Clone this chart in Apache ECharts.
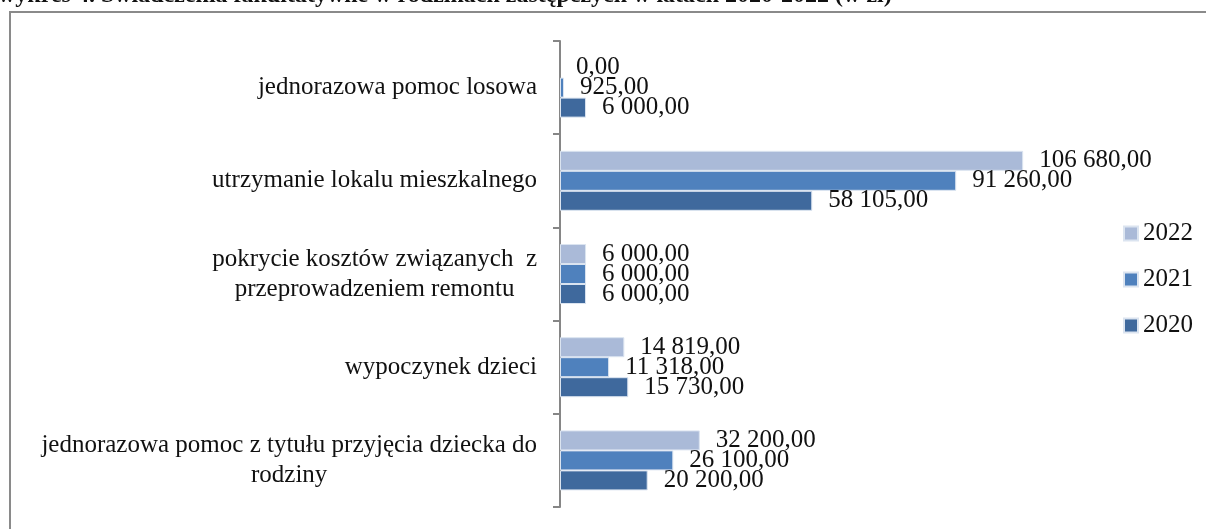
<!DOCTYPE html>
<html>
<head>
<meta charset="utf-8">
<script src="https://cdn.jsdelivr.net/npm/echarts@6/dist/echarts.min.js"></script>
<style>
  html, body { margin: 0; padding: 0; background: #fff; }
  #chart { width: 1206px; height: 529px; }
</style>
</head>
<body>
<div id="chart"></div>
<script>
// kategorie od dołu do góry (oś kategorii w ECharts rysuje pierwszą na dole)
var categories = [
    'jednorazowa pomoc z tytułu przyjęcia dziecka do\nrodziny',
    'wypoczynek dzieci',
    'pokrycie kosztów związanych  z\nprzeprowadzeniem remontu',
    'utrzymanie lokalu mieszkalnego',
    'jednorazowa pomoc losowa'
];
var years = ['2022', '2021', '2020'];
var values2022 = [32200, 14819, 6000, 106680, 0];
var values2021 = [26100, 11318, 6000, 91260, 925];
var values2020 = [20200, 15730, 6000, 58105, 6000];
var colors = ['#aabad8', '#4f81bd', '#3f699d'];

var FONT = '"Liberation Serif", "Times New Roman", serif';
var FS = 25;

// 106680 -> "106 680,00"
var fmt = function(v){
    var s = String(Math.round(v));
    s = s.replace(/\B(?=(\d{3})+(?!\d))/g, ' ');
    return s + ',00';
};

var makeSeries = function(name, data, color){
    return {
        name: name,
        type: 'bar',
        // słupek o wartości 0 bez obramowania, żeby nie było widać kreski
        data: data.map(function(v){
            return v === 0 ? {value: v, itemStyle: {borderWidth: 0}} : v;
        }),
        barWidth: 20,
        barGap: '0%',
        itemStyle: {
            color: color,
            borderColor: '#dbe4f0',
            borderWidth: 1
        },
        label: {
            show: true,
            position: 'right',
            distance: 16,
            fontFamily: FONT,
            fontSize: FS,
            color: '#111',
            formatter: function(p){ return fmt(p.value); }
        }
    };
};

var myChart = echarts.init(document.getElementById('chart'));
var option = {
    animation: false,
    backgroundColor: '#fff',
    graphic: [
        {
            type: 'text',
            left: -2,
            top: -16,
            style: {
                text: 'wykres 4. Świadczenia fakultatywne w rodzinach zastępczych w latach 2020-2022 (w zł)',
                font: 'bold 24px ' + FONT,
                fill: '#111'
            }
        },
        {
            type: 'rect',
            shape: { x: 10, y: 12, width: 1210, height: 540 },
            style: { fill: null, stroke: '#8a8a8a', lineWidth: 2 },
            silent: true
        }
    ],
    legend: {
        data: years,
        orient: 'vertical',
        left: 1118,
        top: 216,
        itemWidth: 14,
        itemHeight: 14,
        itemGap: 21,
        icon: 'rect',
        textStyle: { fontFamily: FONT, fontSize: FS, color: '#111' }
    },
    grid: {
        left: 560,
        top: 41,
        width: 521,
        bottom: 22,
        containLabel: false
    },
    xAxis: {
        type: 'value',
        min: 0,
        max: 120000,
        show: false,
        splitLine: { show: false }
    },
    yAxis: {
        type: 'category',
        data: categories,
        axisLine: { show: true, lineStyle: { color: '#868686', width: 2 } },
        axisTick: { show: true, length: 7, lineStyle: { color: '#868686', width: 2 } },
        axisLabel: {
            margin: 23,
            formatter: function(v){
                return v.split('\n').map(function(l){ return '{c|' + l + '}'; }).join('\n');
            },
            rich: {
                c: {
                    align: 'center',
                    fontFamily: FONT,
                    fontSize: FS,
                    lineHeight: 30,
                    color: '#111'
                }
            }
        }
    },
    series: [
        makeSeries(years[0], values2022, colors[0]),
        makeSeries(years[1], values2021, colors[1]),
        makeSeries(years[2], values2020, colors[2])
    ]
};
myChart.setOption(option);
</script>
</body>
</html>
